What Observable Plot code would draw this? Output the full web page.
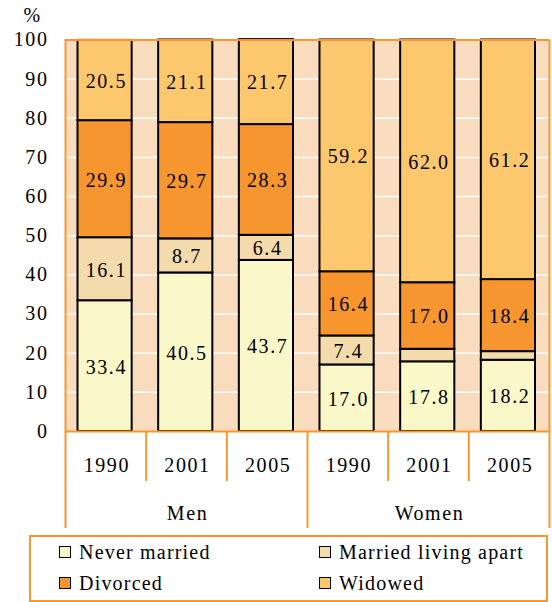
<!DOCTYPE html>
<html><head><meta charset="utf-8">
<script src="https://cdn.jsdelivr.net/npm/d3@7"></script>
<script src="https://cdn.jsdelivr.net/npm/@observablehq/plot@0.6"></script>
<style>
body{margin:0;background:#fff;}
#wrap{position:relative;width:552px;height:602px;font-family:"Liberation Serif","Times New Roman",serif;color:#000;}
#chart svg{display:block;}
#legend{position:absolute;left:29px;top:535px;width:519px;height:67px;border:2px solid #f7982f;box-sizing:border-box;}
.item{position:absolute;display:flex;align-items:center;font-size:20px;letter-spacing:1.2px;line-height:20px;height:20px;white-space:nowrap;}
.sw{width:12px;height:12px;border:1.5px solid #000;box-sizing:border-box;margin-right:8px;}
</style></head>
<body><div id="wrap"><div id="chart"></div><div id="legend"></div></div>
<script>
// ---- data ----
const columnGroups = ["Men", "Men", "Men", "Women", "Women", "Women"];
const years = ["1990", "2001", "2005", "1990", "2001", "2005"];
const categories = ["Never married", "Married living apart", "Divorced", "Widowed"];
const neverMarried = [33.4, 40.5, 43.7, 17.0, 17.8, 18.2];
const marriedApart = [16.1, 8.7, 6.4, 7.4, 3.2, 2.2];
const divorced = [29.9, 29.7, 28.3, 16.4, 17.0, 18.4];
const widowed = [20.5, 21.1, 21.7, 59.2, 62.0, 61.2];
const yTicks = [0, 10, 20, 30, 40, 50, 60, 70, 80, 90, 100];

// ---- styles ----
const colors = ["#faf7c9", "#f3dbab", "#f7962e", "#fcc76d"];
const bg = "#f9dbbe";
const orange = "#f7982f";
const FONT = "'Liberation Serif','Times New Roman',serif";

const series = [neverMarried, marriedApart, divorced, widowed];
const columns = years.map((year, i) => ({i, year, group: columnGroups[i]}));
const rows = [];
columns.forEach(c => {
  let acc = 0;
  series.forEach((vals, k) => {
    const v = vals[c.i];
    rows.push({i: c.i, cat: categories[k], value: v, y1: acc, y2: acc + v});
    acc += v;
  });
});
const groupNames = Array.from(new Set(columnGroups));
const groupLabels = groupNames.map(g => ({group: g, x: d3.mean(columns.filter(c => c.group === g), c => c.i + 0.5)}));

const txt = {fontSize: 20, fill: "black", fontFamily: FONT};

const chart = Plot.plot({
  width: 552,
  height: 529,
  marginTop: 39.5,
  marginLeft: 65,
  marginRight: 3,
  marginBottom: 98,
  style: {fontFamily: FONT, fontSize: "20px", letterSpacing: "1.6px", background: "white", color: "black"},
  x: {domain: [0, columns.length], axis: null},
  y: {domain: [0, 100], axis: null},
  color: {domain: categories, range: colors},
  marks: [
    Plot.frame({fill: bg, stroke: "none"}),
    Plot.ruleY(yTicks.filter(t => t > 0 && t < 100), {stroke: "white", strokeWidth: 1.5}),
    Plot.rect(rows, {x1: "i", x2: d => d.i + 1, y1: "y1", y2: "y2", fill: "cat", stroke: "black", strokeWidth: 2, insetLeft: 12.5, insetRight: 14}),
    Plot.text(rows.filter(d => d.value >= 5), {x: d => d.i + 0.5, y: d => (d.y1 + d.y2) / 2, text: d => d.value.toFixed(1), dx: 0.5, dy: 1, ...txt}),
    // y tick labels
    Plot.text(yTicks, {x: 0, y: d => d, text: d => String(d), textAnchor: "end", dx: -17, ...txt}),
    Plot.text(["%"], {frameAnchor: "top-left", textAnchor: "middle", lineAnchor: "middle", dx: -33, dy: -24, ...txt}),
    // frame & table lines
    Plot.ruleY([0, 100], {stroke: orange, strokeWidth: 2}),
    Plot.ruleX([0, columns.length], {y1: 100, y2: 0, insetBottom: -97, stroke: orange, strokeWidth: 2}),
    Plot.ruleX(columns.filter(c => c.i > 0 && columnGroups[c.i] === columnGroups[c.i - 1]).map(c => c.i), {y1: 0, y2: 0, insetBottom: -50, stroke: orange, strokeWidth: 2}),
    Plot.ruleX(columns.filter(c => c.i > 0 && columnGroups[c.i] !== columnGroups[c.i - 1]).map(c => c.i), {y1: 0, y2: 0, insetBottom: -97, stroke: orange, strokeWidth: 2}),
    // year & group labels
    Plot.text(columns, {x: d => d.i + 0.5, y: 0, text: "year", dy: 34, dx: 1, ...txt}),
    Plot.text(groupLabels, {x: "x", y: 0, text: "group", dy: 82, dx: 1, ...txt})
  ]
});
document.getElementById("chart").appendChild(chart);

// legend (HTML, below the svg)
const legend = document.getElementById("legend");
const pos = [[28, 5], [288, 5], [28, 36], [288, 36]];
categories.forEach((c, k) => {
  const it = document.createElement("div");
  it.className = "item";
  it.style.left = pos[k][0] + "px";
  it.style.top = pos[k][1] + "px";
  const sw = document.createElement("span");
  sw.className = "sw";
  sw.style.background = colors[k];
  const t = document.createElement("span");
  t.textContent = c;
  it.appendChild(sw);
  it.appendChild(t);
  legend.appendChild(it);
});
</script>
</body></html>
